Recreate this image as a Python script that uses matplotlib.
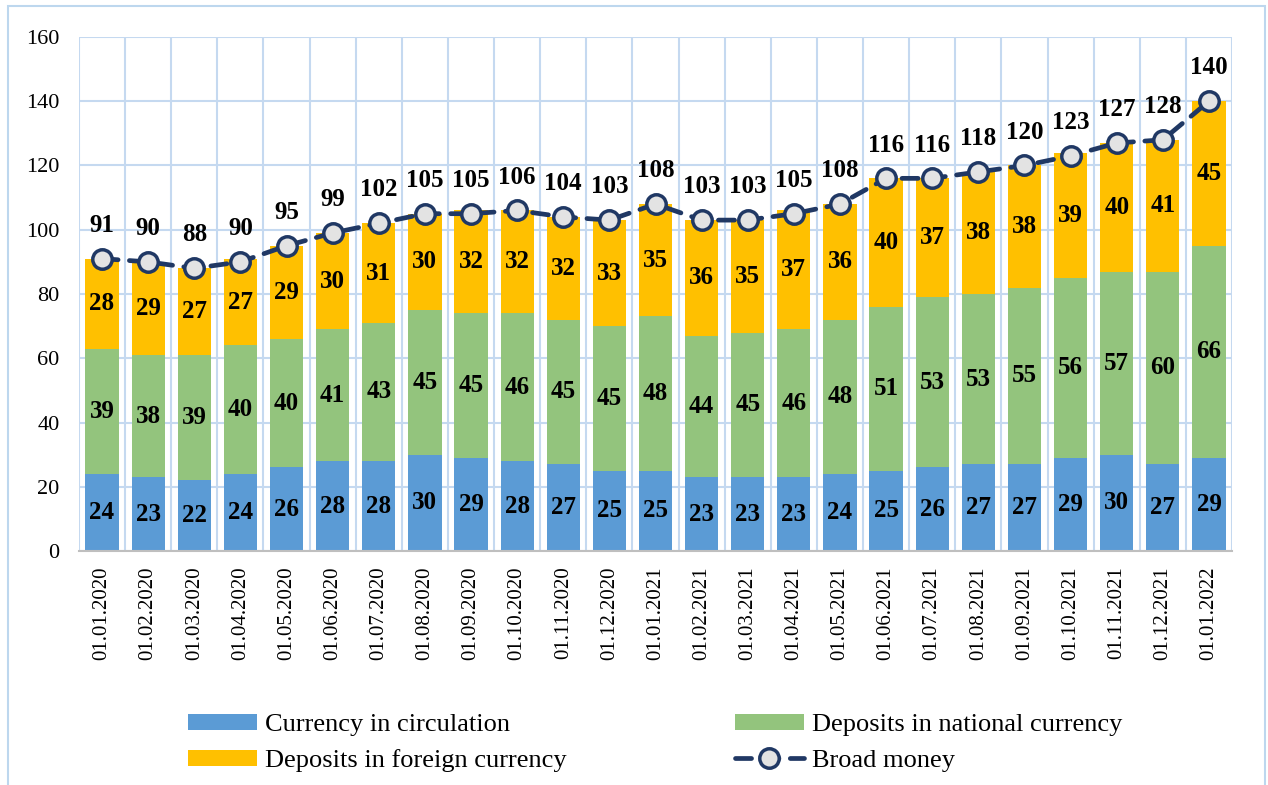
import matplotlib
matplotlib.use('Agg')
import matplotlib.pyplot as plt
import matplotlib.patches as mpatches
import numpy as np

# ── DATA ──
dates = ['01.01.2020', '01.02.2020', '01.03.2020', '01.04.2020', '01.05.2020',
         '01.06.2020', '01.07.2020', '01.08.2020', '01.09.2020', '01.10.2020',
         '01.11.2020', '01.12.2020', '01.01.2021', '01.02.2021', '01.03.2021',
         '01.04.2021', '01.05.2021', '01.06.2021', '01.07.2021', '01.08.2021',
         '01.09.2021', '01.10.2021', '01.11.2021', '01.12.2021', '01.01.2022']
currency = [24, 23, 22, 24, 26, 28, 28, 30, 29, 28, 27, 25, 25,
            23, 23, 23, 24, 25, 26, 27, 27, 29, 30, 27, 29]
national = [39, 38, 39, 40, 40, 41, 43, 45, 45, 46, 45, 45, 48,
            44, 45, 46, 48, 51, 53, 53, 55, 56, 57, 60, 66]
foreign = [28, 29, 27, 27, 29, 30, 31, 30, 32, 32, 32, 33, 35,
           36, 35, 37, 36, 40, 37, 38, 38, 39, 40, 41, 45]
broad = [91, 90, 88, 90, 95, 99, 102, 105, 105, 106, 104, 103, 108,
         103, 103, 105, 108, 116, 116, 118, 120, 123, 127, 128, 140]

# ── PALETTE ──
BLUE = '#5b9bd5'
GREEN = '#93c47d'
GOLD = '#ffc000'
NAVY = '#203864'
GRID = '#c5d9f0'
BORDER = '#bdd7ee'

plt.rcParams['font.family'] = ['Liberation Serif', 'DejaVu Serif']

fig = plt.figure(figsize=(12.68, 7.85), dpi=100)
ax = fig.add_axes([79/1268, 1-551/785, (1232-79)/1268, (551-37)/785])

x = np.arange(len(dates))
w = 0.72
cur = np.array(currency)
nat = np.array(national)
frg = np.array(foreign)

ax.bar(x, cur, w, color=BLUE, zorder=3, label='Currency in circulation')
ax.bar(x, nat, w, bottom=cur, color=GREEN, zorder=3, label='Deposits in national currency')
ax.bar(x, frg, w, bottom=cur+nat, color=GOLD, zorder=3, label='Deposits in foreign currency')

for i in range(len(x)):
    ax.text(x[i], cur[i]/2, str(cur[i]), ha='center', va='center',
            fontsize=18, fontweight='bold', zorder=5)
    ax.text(x[i], cur[i] + nat[i]/2, str(nat[i]), ha='center', va='center',
            fontsize=18, fontweight='bold', zorder=5)
    ax.text(x[i], cur[i] + nat[i] + frg[i]/2, str(frg[i]), ha='center', va='center',
            fontsize=18, fontweight='bold', zorder=5)

ax.plot(x, broad, color=NAVY, lw=3.4, linestyle=(0, (3.4, 2.4)),
        dash_capstyle='round', marker='o', markersize=14,
        markerfacecolor='#e3e3e3', markeredgecolor=NAVY, markeredgewidth=2.5,
        zorder=6, label='Broad money')
for i, v in enumerate(broad):
    ax.annotate(str(v), (x[i], v), xytext=(0, 24), textcoords='offset points',
                ha='center', va='center', fontsize=18, fontweight='bold', zorder=7)

# ── AXES ──
ax.set_xlim(-0.5, len(x) - 0.5)
ax.set_ylim(0, 160)
ax.set_yticks(range(0, 161, 20))
ax.set_xticks(x)
ax.set_xticklabels(dates, rotation=90, fontsize=15)
ax.tick_params(axis='y', labelsize=16, length=0, pad=14)
ax.tick_params(axis='x', length=0, pad=11)
ax.set_xticks(np.arange(-0.5, len(x), 1), minor=True)
ax.tick_params(axis='x', which='minor', length=0)
ax.grid(axis='y', color=GRID, lw=1.5, zorder=0)
ax.grid(axis='x', which='minor', color=GRID, lw=1.5, zorder=0)
for s in ['top', 'right', 'left']:
    ax.spines[s].set_visible(False)
ax.spines['bottom'].set_color('#bfbfbf')
ax.spines['bottom'].set_linewidth(1.5)
ax.spines['bottom'].set_zorder(4)

# ── LEGEND ──
h, l = ax.get_legend_handles_labels()
order = [l.index('Currency in circulation'), l.index('Deposits in foreign currency'),
         l.index('Deposits in national currency'), l.index('Broad money')]
fig.legend([h[k] for k in order], [l[k] for k in order], ncol=2,
           loc='center', bbox_to_anchor=(655/1268, 1-743/785),
           frameon=False, fontsize=19, handlelength=2.6, handleheight=0.55,
           handletextpad=0.3, columnspacing=6.4, labelspacing=0.5)

# ── BORDER ──
fig.add_artist(mpatches.Rectangle((8/1268, -0.02), 1257/1268, 1-6/785+0.02,
               transform=fig.transFigure, fill=False, edgecolor=BORDER, lw=1.5))

fig.savefig('out.png', dpi=100)
